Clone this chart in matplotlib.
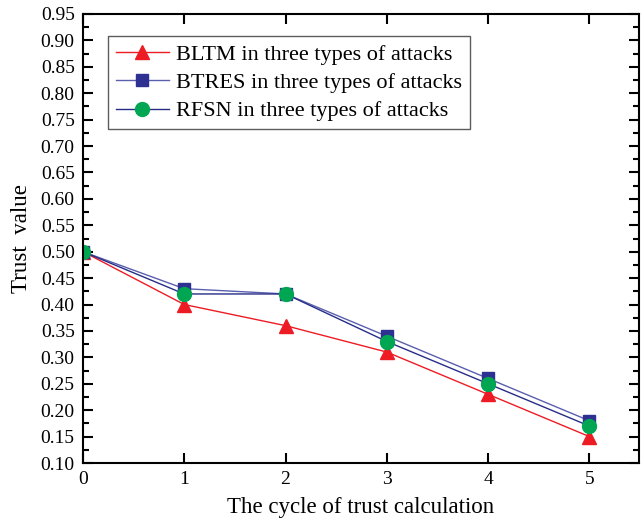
import matplotlib.pyplot as plt
from matplotlib.ticker import MultipleLocator

plt.rcParams['font.family'] = ['Liberation Serif', 'DejaVu Serif']
plt.rcParams['mathtext.fontset'] = 'stix'

# trust values per calculation cycle
cycles = [0, 1, 2, 3, 4, 5]
bltm = [0.50, 0.40, 0.36, 0.31, 0.23, 0.15]
btres = [0.50, 0.43, 0.42, 0.34, 0.26, 0.18]
rfsn = [0.50, 0.42, 0.42, 0.33, 0.25, 0.17]
labels = ['BLTM in three types of attacks',
          'BTRES in three types of attacks',
          'RFSN in three types of attacks']

fig = plt.figure(figsize=(6.41, 5.23), dpi=100)
ax = fig.add_axes([83/641, 60/523, 556/641, 449/523])

ax.plot(cycles, bltm, color='#ED1C24', lw=1.0, marker='^', ms=10,
        mfc='#ED1C24', mec='#ED1C24', label=labels[0])
ax.plot(cycles, btres, color='#5A5FAE', lw=1.0, marker='s', ms=8,
        mfc='#2E3192', mec='#2E3192', label=labels[1])
ax.plot(cycles, rfsn, color='#262D86', lw=1.0, marker='o', ms=10,
        mfc='#00A651', mec='#00A651', label=labels[2])

ax.set_xlim(0, 5.49)
ax.set_ylim(0.10, 0.95)
ax.xaxis.set_major_locator(MultipleLocator(1))
ax.yaxis.set_major_locator(MultipleLocator(0.05))
ax.yaxis.set_minor_locator(MultipleLocator(0.025))
ax.yaxis.set_major_formatter(plt.FormatStrFormatter('%.2f'))

ax.tick_params(which='both', direction='in', top=True, right=True,
               labelsize=14, width=1.5)
ax.tick_params(which='major', length=7, pad=6)
ax.tick_params(which='minor', length=4)
for s in ax.spines.values():
    s.set_linewidth(1.5)

ax.set_xlabel('The cycle of trust calculation', fontsize=16.5, labelpad=6)
ax.set_ylabel('Trust  value', fontsize=16.5, labelpad=6)

leg = ax.legend(loc='upper left', bbox_to_anchor=(0.037, 0.96), fontsize=16,
                frameon=True, fancybox=False, edgecolor='#333333',
                handlelength=2.4, handletextpad=0.3, borderpad=0.35,
                labelspacing=0.35, borderaxespad=0.2)
leg.get_frame().set_linewidth(1.0)

fig.savefig('out.png', dpi=100)
